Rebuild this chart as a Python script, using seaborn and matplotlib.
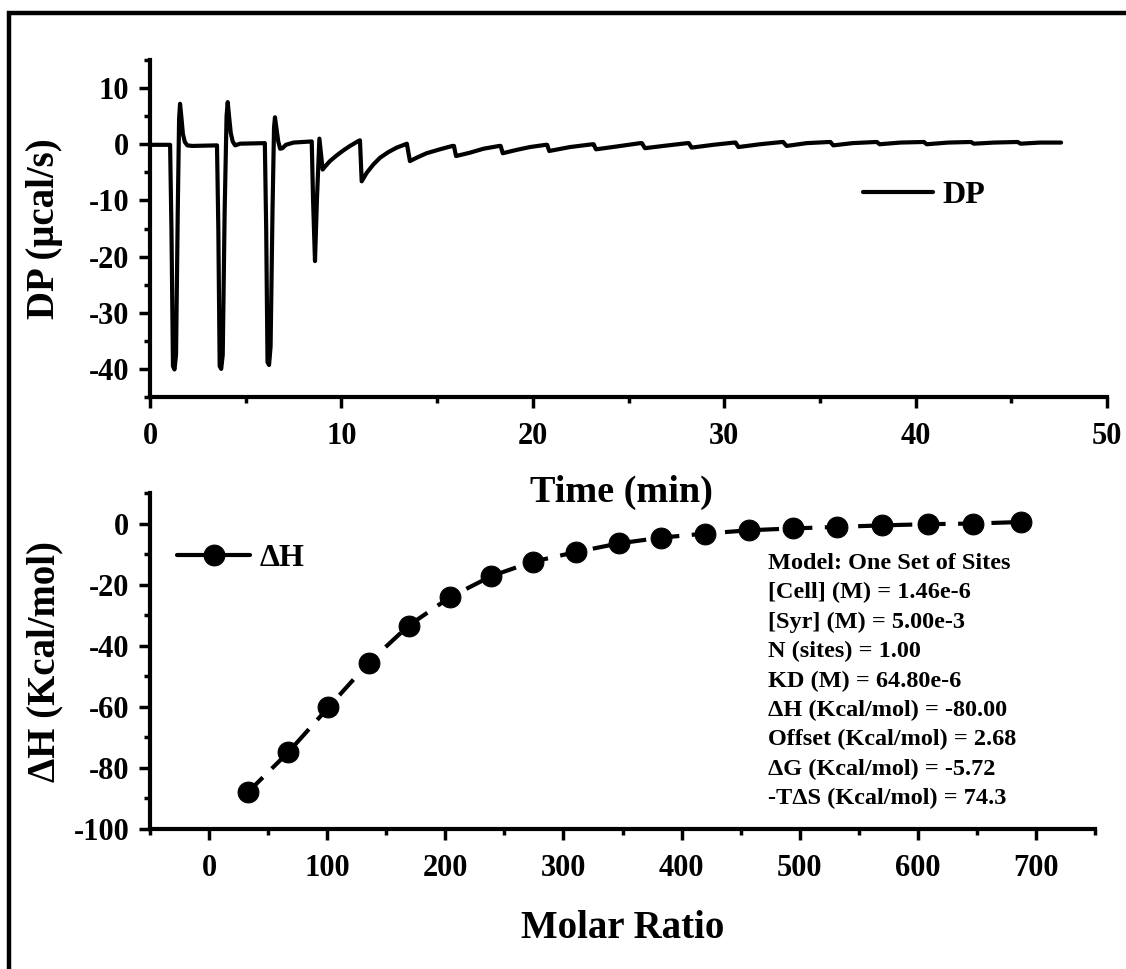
import matplotlib
matplotlib.use("Agg")
import matplotlib.pyplot as plt
import seaborn as sns
from matplotlib.patches import Rectangle
from matplotlib.ticker import MultipleLocator

# ---------------- data ----------------
# Raw thermogram (DP trace)
dp_time = [
    0.00, 1.05, 1.12, 1.20, 1.28, 1.36, 1.45, 1.52, 1.57, 1.64, 1.72, 1.82, 1.95, 2.20,
    3.50, 3.57, 3.64, 3.72, 3.80, 3.90, 4.00, 4.06, 4.13, 4.22, 4.32, 4.45, 4.70,
    6.00, 6.07, 6.14, 6.22, 6.30, 6.40, 6.48, 6.53, 6.60, 6.70, 6.80, 6.92, 7.10, 7.50,
    8.45, 8.52, 8.62, 8.72, 8.85, 9.02, 9.14, 9.40, 9.75, 10.10, 10.45, 10.90,
    10.97, 11.06, 11.32, 11.67, 12.02, 12.45, 12.89, 13.35,
    13.42, 13.58, 13.93, 14.45, 15.15, 15.80,
    15.88, 15.99, 16.72, 17.42, 18.25,
    18.32, 18.43, 19.16, 19.85, 20.68,
    20.75, 20.86, 21.94, 23.12,
    23.18, 23.30, 24.38, 25.62,
    25.70, 25.86, 26.82, 28.08,
    28.15, 28.30, 29.43, 30.52,
    30.60, 30.74, 31.87, 33.02,
    33.08, 33.26, 34.31, 35.48,
    35.55, 35.70, 36.70, 37.92,
    37.98, 38.12, 39.20, 40.38,
    40.44, 40.58, 41.70, 42.84,
    42.90, 43.04, 44.10, 45.28,
    45.34, 45.48, 46.50, 47.60,
]
dp_value = [
    -0.1, -0.1, -15.0, -39.5, -40.1, -37.5, -12.0, 4.5, 7.2, 4.8, 1.8, 0.4, -0.2, -0.3,
    -0.2, -15.0, -39.5, -40.0, -37.5, -12.0, 5.0, 7.5, 5.0, 2.0, 0.5, -0.2, 0.1,
    0.2, -15.0, -38.8, -39.3, -36.0, -12.0, 3.0, 4.8, 3.0, 0.5, -0.8, -0.7, -0.1, 0.3,
    0.5, -10.0, -20.8, -10.0, 1.0, -4.5, -4.0, -3.0, -2.0, -1.1, -0.3, 0.6,
    0.7, -6.6, -5.1, -3.6, -2.4, -1.4, -0.6, 0.0,
    0.1, -3.0, -2.4, -1.6, -0.9, -0.3,
    -0.3, -2.1, -1.5, -0.8, -0.3,
    -0.3, -1.6, -1.0, -0.5, -0.1,
    -0.1, -1.2, -0.5, 0.0,
    0.0, -0.9, -0.4, 0.2,
    0.2, -0.7, -0.3, 0.2,
    0.2, -0.6, -0.1, 0.3,
    0.3, -0.5, 0.0, 0.4,
    0.4, -0.3, 0.2, 0.4,
    0.4, -0.2, 0.2, 0.4,
    0.4, 0.0, 0.3, 0.4,
    0.4, 0.0, 0.3, 0.4,
    0.4, 0.1, 0.3, 0.4,
    0.4, 0.1, 0.3, 0.3,
]

# Integrated heats
molar_ratio = [33, 67, 101, 135, 169, 204, 239, 274, 311, 347,
               383, 420, 457, 494, 532, 570, 609, 647, 687]
delta_h = [-87.9, -74.9, -60.2, -45.6, -33.4, -24.1, -17.2, -12.5, -9.3, -6.5,
           -4.6, -3.3, -2.2, -1.6, -1.1, -0.6, -0.2, 0.0, 0.5]

fit_params = [
    "Model: One Set of Sites",
    "[Cell] (M) = 1.46e-6",
    "[Syr] (M) = 5.00e-3",
    "N (sites) = 1.00",
    "KD (M) = 64.80e-6",
    "\u0394H (Kcal/mol) = -80.00",
    "Offset (Kcal/mol) = 2.68",
    "\u0394G (Kcal/mol) = -5.72",
    "-T\u0394S (Kcal/mol) = 74.3",
]

# ---------------- style ----------------
sns.set_style("ticks")
plt.rcParams["font.family"] = ["Liberation Serif", "DejaVu Serif"]
plt.rcParams["font.weight"] = "bold"
plt.rcParams["axes.labelweight"] = "bold"
plt.rcParams["axes.unicode_minus"] = False
for key in ("text.color", "axes.labelcolor", "axes.edgecolor",
            "xtick.color", "ytick.color"):
    plt.rcParams[key] = "black"

W, H = 1126, 969
fig = plt.figure(figsize=(W / 100, H / 100), dpi=100)
fig.patch.set_facecolor("white")

ax1 = fig.add_axes([150 / W, 1 - 397 / H, (1107 - 150) / W, (397 - 60) / H])
ax2 = fig.add_axes([150 / W, 1 - 829 / H, (1095 - 150) / W, (829 - 493) / H])

# ---------------- top: thermogram ----------------
sns.lineplot(x=dp_time, y=dp_value, ax=ax1, color="black", lw=3,
             sort=False, estimator=None, label="DP", legend=False,
             solid_joinstyle="round")
ax1.set_xlim(0, 50)
ax1.set_ylim(-45, 15)
ax1.xaxis.set_major_locator(MultipleLocator(10))
ax1.xaxis.set_minor_locator(MultipleLocator(5))
ax1.yaxis.set_major_locator(MultipleLocator(10))
ax1.yaxis.set_minor_locator(MultipleLocator(5))
ax1.set_xlabel("Time (min)", fontsize=27.5)
ax1.set_ylabel("DP (\u03bccal/s)", fontsize=28)
ax1.xaxis.set_label_coords((621 - 150) / 957, (397 - 492) / 337)
ax1.xaxis.label.set_verticalalignment("center")
ax1.yaxis.set_label_coords((45 - 150) / 957, 0.5)
ax1.yaxis.label.set_verticalalignment("center")
ax1.legend(loc="center left", bbox_to_anchor=(863 / W, 1 - 195 / H),
           bbox_transform=fig.transFigure, frameon=False, fontsize=23,
           handlelength=2.2, handletextpad=0.3, borderpad=0, borderaxespad=0)

# ---------------- bottom: binding isotherm ----------------
sns.lineplot(x=molar_ratio, y=delta_h, ax=ax2, color="black", lw=3,
             linestyle=(0, (5, 3)), marker="o", markersize=15,
             markerfacecolor="black", markeredgecolor="black",
             sort=False, estimator=None, label="\u0394H", legend=False)
ax2.set_xlim(-50, 750)
ax2.set_ylim(-100, 10)
ax2.xaxis.set_major_locator(MultipleLocator(100))
ax2.xaxis.set_minor_locator(MultipleLocator(50))
ax2.yaxis.set_major_locator(MultipleLocator(20))
ax2.yaxis.set_minor_locator(MultipleLocator(10))
ax2.set_xlabel("Molar Ratio", fontsize=28)
ax2.set_ylabel("\u0394H (Kcal/mol)", fontsize=28)
ax2.xaxis.set_label_coords(0.5, (829 - 928) / 336)
ax2.xaxis.label.set_verticalalignment("center")
ax2.yaxis.set_label_coords((45 - 150) / 945, 0.5)
ax2.yaxis.label.set_verticalalignment("center")
leg2 = ax2.legend(loc="center left", bbox_to_anchor=(177 / W, 1 - 558 / H),
                  bbox_transform=fig.transFigure, frameon=False, fontsize=23,
                  handlelength=2.3, handletextpad=0.3, borderpad=0,
                  borderaxespad=0)
for h in leg2.legend_handles:
    h.set_linestyle("-")

fig.text(768 / W, 1 - 553 / H, "\n".join(fit_params), ha="left", va="top",
         fontsize=17.5, linespacing=1.51, fontweight="bold")

for ax in (ax1, ax2):
    sns.despine(ax=ax)
    for s in ("left", "bottom"):
        ax.spines[s].set_linewidth(3)
    ax.tick_params(which="major", direction="out", length=8, width=2.5,
                   labelsize=22, pad=7, colors="black")
    ax.tick_params(which="minor", direction="out", length=4, width=2.5,
                   colors="black")
    ax.tick_params(axis="x", which="major", pad=10)
    ax.patch.set_alpha(0)

# outer frame (cropped on right/bottom)
fig.add_artist(Rectangle((9 / W, -0.5), 2.0, 0.5 + (1 - 13 / H),
                         transform=fig.transFigure, fill=False,
                         lw=3.2, edgecolor="black", clip_on=False))

fig.savefig("out.png", dpi=100, facecolor="white")
